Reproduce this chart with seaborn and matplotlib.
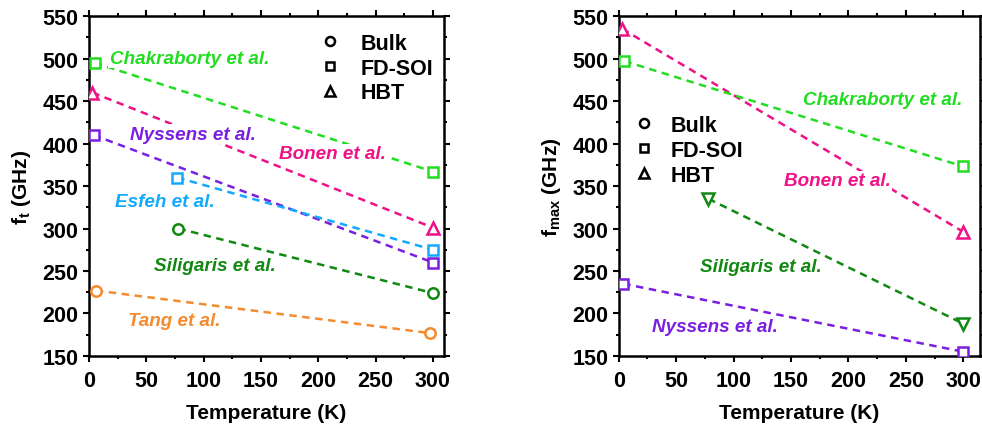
import matplotlib
matplotlib.use('Agg')
import matplotlib.pyplot as plt
from matplotlib.lines import Line2D
from matplotlib.ticker import MultipleLocator
import seaborn as sns

# cutoff frequency f_t (GHz) vs temperature (K)
ft_names = ['Chakraborty et al.', 'Bonen et al.', 'Nyssens et al.',
            'Esfeh et al.', 'Siligaris et al.', 'Tang et al.']
ft_temp = [[5, 300], [3, 300], [4, 300], [77, 300], [78, 300], [6, 297]]
ft_vals = [[495, 367], [460, 301], [410, 260], [360, 275], [300, 224], [227, 177]]
ft_marks = ['s', '^', 's', 's', 'o', 'o']
ft_label_pos = [(18, 500), (166, 388), (36, 411), (23, 332), (57, 256), (34, 192)]

# max oscillation frequency f_max (GHz) vs temperature (K)
fmax_names = ['Bonen et al.', 'Chakraborty et al.', 'Siligaris et al.', 'Nyssens et al.']
fmax_temp = [[3, 300], [5, 300], [78, 300], [4, 300]]
fmax_vals = [[535, 296], [497, 373], [335, 188], [235, 155]]
fmax_marks = ['^', 's', 'v', 's']
fmax_label_pos = [(144, 356), (160, 452), (71, 255), (29, 185)]

colors = {
    'Chakraborty et al.': '#22dd22',
    'Bonen et al.': '#ee1188',
    'Nyssens et al.': '#7a1ee0',
    'Esfeh et al.': '#11aaff',
    'Siligaris et al.': '#118811',
    'Tang et al.': '#f58a2e',
}
msize = {'s': 6.5, 'o': 7.5, '^': 8, 'v': 8}

legend_names = ['Bulk', 'FD-SOI', 'HBT']
legend_marks = ['o', 's', '^']

sns.set_style('ticks')
plt.rcParams['font.family'] = ['Liberation Sans', 'DejaVu Sans']
plt.rcParams['font.weight'] = 'bold'
plt.rcParams['axes.labelweight'] = 'bold'
plt.rcParams['mathtext.default'] = 'regular'
for k in ['text.color', 'axes.labelcolor', 'axes.edgecolor',
          'xtick.color', 'ytick.color']:
    plt.rcParams[k] = 'black'

fig = plt.figure(figsize=(9.82, 4.27), dpi=100)
ax1 = fig.add_axes([0.0906, 0.164, 0.3615, 0.796])
ax2 = fig.add_axes([0.630, 0.164, 0.368, 0.796])


def draw(ax, names, temps, vals, marks, label_pos):
    for name, t, v, m, (lx, ly) in zip(names, temps, vals, marks, label_pos):
        c = colors[name]
        sns.lineplot(x=t, y=v, ax=ax, color=c, linestyle=(0, (3, 2.2)), lw=1.8,
                     marker=m, markersize=msize[m], markerfacecolor='white',
                     markeredgecolor=c, markeredgewidth=1.8, zorder=3)
        ax.text(lx, ly, name, color=c, fontsize=13.6, fontstyle='italic',
                fontweight='bold', va='center', ha='left', zorder=4,
                bbox=dict(facecolor='white', edgecolor='none', pad=1.0))


draw(ax1, ft_names, ft_temp, ft_vals, ft_marks, ft_label_pos)
draw(ax2, fmax_names, fmax_temp, fmax_vals, fmax_marks, fmax_label_pos)

ax1.set_xlim(0, 309.6)
ax2.set_xlim(0, 314.5)
ax1.set_ylabel('f$_t$ (GHz)', fontsize=15, labelpad=7)
ax2.set_ylabel('f$_{max}$ (GHz)', fontsize=15, labelpad=7)

handles = [Line2D([], [], ls='none', marker=m, markersize=msize[m] - 1,
                  markerfacecolor='white', markeredgecolor='black',
                  markeredgewidth=1.8) for m in legend_marks]

for ax in (ax1, ax2):
    ax.set_ylim(150, 550)
    ax.set_xlabel('Temperature (K)', fontsize=15, labelpad=9)
    ax.xaxis.set_major_locator(MultipleLocator(50))
    ax.xaxis.set_minor_locator(MultipleLocator(25))
    ax.yaxis.set_major_locator(MultipleLocator(50))
    ax.yaxis.set_minor_locator(MultipleLocator(25))
    ax.tick_params(which='both', direction='out', top=True, right=True,
                   labeltop=False, labelright=False, width=1.5, color='black')
    ax.tick_params(which='major', length=4, labelsize=15.5)
    ax.tick_params(axis='x', which='major', pad=6)
    ax.tick_params(which='minor', length=2.5)
    for s in ax.spines.values():
        s.set_linewidth(1.8)
        s.set_color('black')
        s.set_visible(True)
    for lab in ax.get_xticklabels() + ax.get_yticklabels():
        lab.set_fontweight('bold')

ax1.legend(handles, legend_names, loc='upper right', frameon=False, fontsize=15.5,
           handlelength=1.0, handletextpad=0.9, labelspacing=0.18,
           bbox_to_anchor=(1.024, 1.008))
ax2.legend(handles, legend_names, loc='center left', frameon=False, fontsize=15.5,
           handlelength=1.0, handletextpad=0.75, labelspacing=0.18,
           bbox_to_anchor=(-0.013, 0.605))

fig.savefig('out.png', dpi=100)
